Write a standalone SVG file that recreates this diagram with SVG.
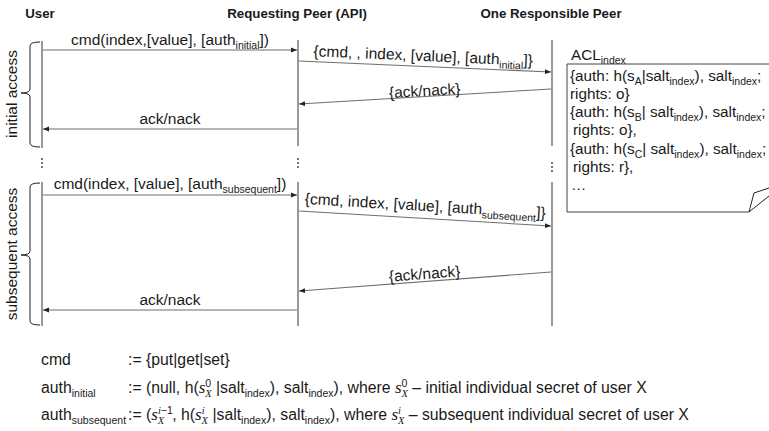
<svg xmlns="http://www.w3.org/2000/svg" width="769" height="431" viewBox="0 0 769 431">
  <style>
    text { font-family: "Liberation Sans", Arial, sans-serif; fill: #1a1a1a; }
    .hdr { font-weight: bold; font-size: 13.3px; text-anchor: middle; }
    .lbl { font-size: 15.5px; }
    .acl { font-size: 15.3px; }
    .leg { font-size: 15.8px; }
    .sub { font-size: 10.5px; }
    .m { font-family: "Liberation Serif", "Times New Roman", serif; font-style: italic; }
    .big { font-size: 17px; }
    .life { stroke: #555; stroke-width: 1.2; fill: none; }
    .msg { stroke: #6e6e6e; stroke-width: 1.1; fill: none; marker-end: url(#ah); }
    .brace { stroke: #222; stroke-width: 1; fill: none; }
    .dot { fill: #333; }
  </style>
  <defs>
    <marker id="ah" viewBox="0 0 10 10" refX="10" refY="5" markerWidth="6" markerHeight="6" orient="auto" markerUnits="userSpaceOnUse">
      <path d="M0,1 L10,5 L0,9 Z" fill="#222"/>
    </marker>
  </defs>

  <!-- participants -->
  <g id="user">
    <text class="hdr" x="40" y="18">User</text>
    <line class="life" x1="42" y1="41" x2="42" y2="148"/>
    <circle class="dot" cx="42" cy="159" r="0.9"/>
    <circle class="dot" cx="42" cy="163" r="0.9"/>
    <circle class="dot" cx="42" cy="167" r="0.9"/>
    <line class="life" x1="42" y1="182" x2="42" y2="326"/>
  </g>
  <g id="requesting-peer">
    <text class="hdr" x="297" y="18">Requesting Peer (API)</text>
    <line class="life" x1="298" y1="40" x2="298" y2="146"/>
    <circle class="dot" cx="298" cy="159" r="0.9"/>
    <circle class="dot" cx="298" cy="163" r="0.9"/>
    <circle class="dot" cx="298" cy="167" r="0.9"/>
    <line class="life" x1="298" y1="182" x2="298" y2="326"/>
  </g>
  <g id="responsible-peer">
    <text class="hdr" x="551" y="18">One Responsible Peer</text>
    <line class="life" x1="552" y1="40" x2="552" y2="146"/>
    <circle class="dot" cx="552" cy="163" r="0.9"/>
    <circle class="dot" cx="552" cy="167" r="0.9"/>
    <circle class="dot" cx="552" cy="171" r="0.9"/>
    <line class="life" x1="552" y1="182" x2="552" y2="326"/>
  </g>

  <!-- phase braces -->
  <g id="initial-access">
    <path class="brace" d="M40,42 Q30,42 30,46 L30,89 Q30,93 21,93 Q30,93 30,97 L30,143 Q30,147 40,147"/>
    <text class="lbl" transform="translate(17,94) rotate(-90)" text-anchor="middle">initial access</text>
  </g>
  <g id="subsequent-access">
    <path class="brace" d="M40,183 Q30,183 30,187 L30,251 Q30,255 21,255 Q30,255 30,259 L30,321 Q30,325 40,325"/>
    <text class="lbl" transform="translate(17,254) rotate(-90)" text-anchor="middle">subsequent access</text>
  </g>

  <!-- ACL document -->
  <g id="acl">
    <text class="acl" x="571" y="60">ACL<tspan class="sub" dy="4">index</tspan></text>
    <path d="M567,64 L769,64 M567,64 L567,212 L749,212" stroke="#444" stroke-width="1" fill="none"/>
    <path d="M749,212 L754,193 L769,188 M749,212 L769,196" stroke="#222" stroke-width="1" fill="none"/>
    <text class="acl" x="570" y="81">{auth: h(s<tspan class="sub" dy="4">A</tspan><tspan dy="-4">|salt</tspan><tspan class="sub" dy="4">index</tspan><tspan dy="-4">), salt</tspan><tspan class="sub" dy="4">index</tspan><tspan dy="-4">;</tspan></text>
    <text class="acl" x="570" y="99">rights: o}</text>
    <text class="acl" x="570" y="117">{auth: h(s<tspan class="sub" dy="4">B</tspan><tspan dy="-4">| salt</tspan><tspan class="sub" dy="4">index</tspan><tspan dy="-4">), salt</tspan><tspan class="sub" dy="4">index</tspan><tspan dy="-4">;</tspan></text>
    <text class="acl" x="573" y="135">rights: o},</text>
    <text class="acl" x="570" y="154">{auth: h(s<tspan class="sub" dy="4">C</tspan><tspan dy="-4">| salt</tspan><tspan class="sub" dy="4">index</tspan><tspan dy="-4">), salt</tspan><tspan class="sub" dy="4">index</tspan><tspan dy="-4">;</tspan></text>
    <text class="acl" x="573" y="172">rights: r},</text>
    <text class="acl" x="571" y="190">…</text>
  </g>

  <!-- messages -->
  <g id="connectors">
    <line class="msg" x1="43" y1="50" x2="297" y2="50"/>
    <line class="msg" x1="299" y1="61" x2="551" y2="72"/>
    <line class="msg" x1="551" y1="89" x2="299" y2="104"/>
    <line class="msg" x1="297" y1="129" x2="43" y2="129"/>
    <line class="msg" x1="43" y1="195" x2="297" y2="195"/>
    <line class="msg" x1="299" y1="211" x2="551" y2="226"/>
    <line class="msg" x1="551" y1="272" x2="299" y2="291"/>
    <line class="msg" x1="297" y1="310" x2="43" y2="310"/>

    <text class="lbl" x="170" y="45" text-anchor="middle">cmd(index,[value], [auth<tspan class="sub" dy="4">initial</tspan><tspan dy="-4">])</tspan></text>
    <text class="lbl" transform="translate(423,61) rotate(2.5)" text-anchor="middle">{cmd, , index, [value], [auth<tspan class="sub" dy="4">initial</tspan><tspan dy="-4">]}</tspan></text>
    <text class="lbl" transform="translate(425,96) rotate(-3.4)" text-anchor="middle">{ack/nack}</text>
    <text class="lbl" x="170" y="124" text-anchor="middle">ack/nack</text>

    <text class="lbl" x="170" y="189" text-anchor="middle">cmd(index, [value], [auth<tspan class="sub" dy="4">subsequent</tspan><tspan dy="-4">])</tspan></text>
    <text class="lbl" transform="translate(425,211) rotate(3.4)" text-anchor="middle">{cmd, index, [value], [auth<tspan class="sub" dy="4">subsequent</tspan><tspan dy="-4">]}</tspan></text>
    <text class="lbl" transform="translate(425,279) rotate(-4.3)" text-anchor="middle">{ack/nack}</text>
    <text class="lbl" x="170" y="305" text-anchor="middle">ack/nack</text>
  </g>

  <!-- definitions -->
  <g id="legend">
    <text class="leg" x="41" y="365">cmd</text>
    <text class="leg" x="128" y="365">:= {put|get|set}</text>

    <text class="leg" x="41" y="393">auth<tspan class="sub" dy="4">initial</tspan></text>
    <text class="leg" x="128" y="393">:= (null, h(<tspan class="m big">s</tspan><tspan class="sub" dy="-6">0</tspan><tspan class="sub m" dx="-6" dy="10">X</tspan><tspan dy="-4"> |salt</tspan><tspan class="sub" dy="4">index</tspan><tspan dy="-4">), salt</tspan><tspan class="sub" dy="4">index</tspan><tspan dy="-4">), where </tspan><tspan class="m big">s</tspan><tspan class="sub" dy="-6">0</tspan><tspan class="sub m" dx="-6" dy="10">X</tspan><tspan dy="-4"> – initial individual secret of user X</tspan></text>

    <text class="leg" x="41" y="420">auth<tspan class="sub" dy="4">subsequent</tspan></text>
    <text class="leg" x="128" y="420">:= (<tspan class="m big">s</tspan><tspan class="sub m" dy="-6">i</tspan><tspan class="sub">−1</tspan><tspan class="sub m" dx="-15" dy="10">X</tspan><tspan dx="8" dy="-4">, h(</tspan><tspan class="m big">s</tspan><tspan class="sub m" dy="-6">i</tspan><tspan class="sub m" dx="-3" dy="10">X</tspan><tspan dy="-4"> |salt</tspan><tspan class="sub" dy="4">index</tspan><tspan dy="-4">), salt</tspan><tspan class="sub" dy="4">index</tspan><tspan dy="-4">), where </tspan><tspan class="m big">s</tspan><tspan class="sub m" dy="-6">i</tspan><tspan class="sub m" dx="-3" dy="10">X</tspan><tspan dy="-4"> – subsequent individual secret of user X</tspan></text>
  </g>
</svg>
